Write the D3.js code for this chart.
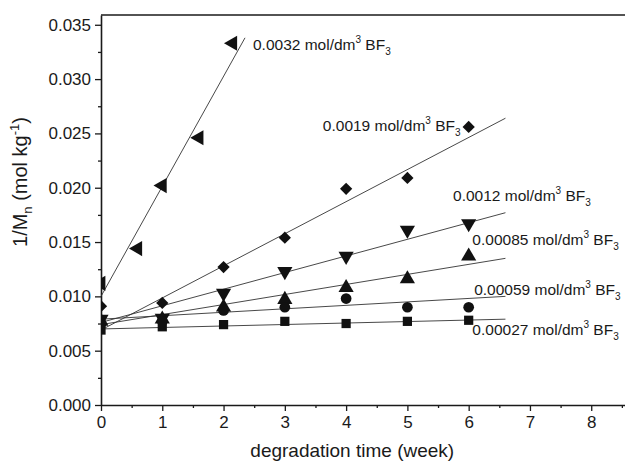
<!DOCTYPE html>
<html>
<head>
<meta charset="utf-8">
<script src="https://cdn.jsdelivr.net/npm/d3@7"></script>
<style>
  body { margin: 0; background: #fff; }
  text { font-family: "Liberation Sans", Arial, sans-serif; fill: #1a1a1a; }
</style>
</head>
<body>
<div id="chart"></div>
<script>
// data
var concs = ["0.0032", "0.0019", "0.0012", "0.00085", "0.00059", "0.00027"];
var shapes = ["left", "diamond", "down", "up", "circle", "square"];

var weeks32 = [0, 0.6, 1.0, 1.6, 2.15];
var vals32 = [0.0112, 0.0144, 0.0202, 0.0246, 0.0333];

var weeks = [0, 1, 2, 3, 4, 5, 6];
var vals19 = [0.0091, 0.0094, 0.0127, 0.0154, 0.0199, 0.0209, 0.0256];
var vals12 = [0.0079, 0.0080, 0.0103, 0.0123, 0.0137, 0.0161, 0.0167];
var vals085 = [0.0077, 0.0079, 0.0090, 0.0097, 0.0108, 0.0116, 0.0137];
var vals059 = [0.0075, 0.0077, 0.0087, 0.0090, 0.0098, 0.0090, 0.0090];
var vals027 = [0.0069, 0.0072, 0.0074, 0.0077, 0.0075, 0.0077, 0.0078];

// fitted lines: value at week 0 and at the end week
var fitEndWeek = [2.35, 6.6, 6.6, 6.6, 6.6, 6.6];
var fitStart = [0.0100, 0.0069, 0.0076, 0.0074, 0.0079, 0.0070];
var fitEnd = [0.0338, 0.0264, 0.0177, 0.0135, 0.0100, 0.0079];

var xTicks = [0, 1, 2, 3, 4, 5, 6, 7, 8];
var yTicks = [0, 0.005, 0.010, 0.015, 0.020, 0.025, 0.030, 0.035];

var seriesX = [weeks32, weeks, weeks, weeks, weeks, weeks];
var seriesY = [vals32, vals19, vals12, vals085, vals059, vals027];

// set the dimensions and margins of the graph
var margin = {top: 15, right: 0, bottom: 59, left: 101},
    width = 527,
    height = 390;

var svg = d3.select("#chart")
  .append("svg")
    .attr("width", 625)
    .attr("height", 464)
  .append("g")
    .attr("transform", "translate(" + margin.left + "," + margin.top + ")");

var x = d3.scaleLinear().domain([0, 8.6]).range([0, width]);
var y = d3.scaleLinear().domain([0, 0.0359]).range([height, 0]);

svg.append("clipPath").attr("id", "plotclip")
  .append("rect").attr("width", width).attr("height", height);

// top frame line
svg.append("line")
  .attr("x1", 0).attr("x2", width).attr("y1", 0).attr("y2", 0)
  .attr("stroke", "#1a1a1a").attr("stroke-width", 1.6);

// minor ticks
svg.append("g")
  .attr("transform", "translate(0," + height + ")")
  .call(d3.axisBottom(x).tickValues(d3.range(0.5, 8.6, 1)).tickSize(3).tickFormat(""))
  .call(function(g) { g.select(".domain").remove(); });
svg.append("g")
  .call(d3.axisLeft(y).tickValues(d3.range(0.0025, 0.035, 0.005)).tickSize(3).tickFormat(""))
  .call(function(g) { g.select(".domain").remove(); });

var xAxis = svg.append("g")
  .attr("transform", "translate(0," + height + ")")
  .call(d3.axisBottom(x).tickValues(xTicks).tickSize(6).tickSizeOuter(0).tickPadding(5));
var yAxis = svg.append("g")
  .call(d3.axisLeft(y).tickValues(yTicks).tickSize(6).tickSizeOuter(0).tickPadding(4)
    .tickFormat(d3.format(".3f")));

svg.selectAll(".tick line").attr("stroke", "#1a1a1a").attr("stroke-width", 1.3);
svg.selectAll(".domain").attr("stroke", "#1a1a1a").attr("stroke-width", 1.6);
svg.selectAll(".tick text").attr("font-size", 17).attr("fill", "#1a1a1a")
  .style("font-family", "Liberation Sans, Arial, sans-serif");

// axis titles
svg.append("text")
  .attr("x", x(4.1)).attr("y", height + 52)
  .attr("text-anchor", "middle").attr("font-size", 19)
  .text("degradation time (week)");

var yt = svg.append("text")
  .attr("transform", "translate(-74," + (height / 2 - 28) + ") rotate(-90)")
  .attr("text-anchor", "middle").attr("font-size", 20);
yt.append("tspan").text("1/M");
yt.append("tspan").attr("font-size", 13).attr("dy", 5).text("n");
yt.append("tspan").attr("dy", -5).text(" (mol kg");
yt.append("tspan").attr("font-size", 13).attr("dy", -8).text("-1");
yt.append("tspan").attr("dy", 8).text(")");

// fit lines
var plot = svg.append("g").attr("clip-path", "url(#plotclip)");
concs.forEach(function(c, i) {
  plot.append("line")
    .attr("x1", x(0)).attr("y1", y(fitStart[i]))
    .attr("x2", x(fitEndWeek[i])).attr("y2", y(fitEnd[i]))
    .attr("stroke", "#333").attr("stroke-width", 0.9);
});

// markers
function marker(shape) {
  if (shape == "circle") return d3.symbol().type(d3.symbolCircle).size(90)();
  if (shape == "square") return d3.symbol().type(d3.symbolSquare).size(85)();
  if (shape == "diamond") return d3.symbol().type(d3.symbolSquare).size(75)();
  return d3.symbol().type(d3.symbolTriangle).size(100)();
}
var rot = {left: -90, diamond: 45, down: 180, up: 0, circle: 0, square: 0};

concs.forEach(function(c, i) {
  var pts = seriesX[i].map(function(t, j) { return [t, seriesY[i][j]]; });
  plot.selectAll(".m" + i)
    .data(pts)
    .enter()
    .append("path")
      .attr("class", "m" + i)
      .attr("d", marker(shapes[i]))
      .attr("transform", function(d) {
        return "translate(" + x(d[0]) + "," + y(d[1]) + ") rotate(" + rot[shapes[i]] + ")";
      })
      .attr("fill", "#111");
});

// labels
var labelX = [2.48, 3.62, 5.745, 6.06, 6.09, 6.06];
var labelY = [0.0327, 0.0252, 0.0188, 0.0147, 0.0101, 0.0064];
concs.forEach(function(c, i) {
  var t = svg.append("text")
    .attr("x", x(labelX[i])).attr("y", y(labelY[i]))
    .attr("font-size", 15.5);
  t.append("tspan").text(c + " mol/dm");
  t.append("tspan").attr("font-size", 10).attr("dy", -7).text("3");
  t.append("tspan").attr("dy", 7).text(" BF");
  t.append("tspan").attr("font-size", 10).attr("dy", 5).text("3");
});
</script>
</body>
</html>
